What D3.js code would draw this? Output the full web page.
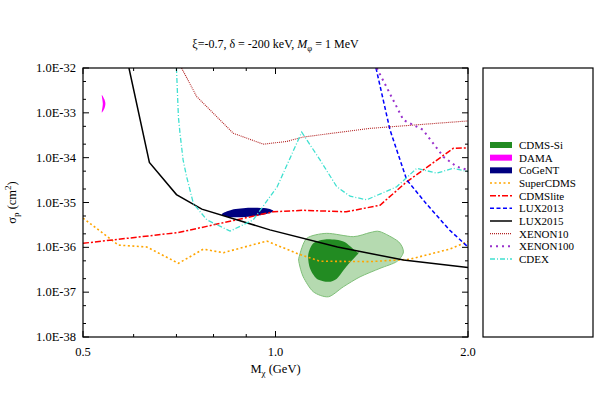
<!DOCTYPE html>
<html>
<head>
<meta charset="utf-8">
<script src="https://cdn.jsdelivr.net/npm/d3@7"></script>
<style>
  body { margin: 0; background: #fff; }
  text { font-family: "Liberation Serif", "Times New Roman", serif; fill: #000; }
</style>
</head>
<body>
<div id="chart"></div>
<script>
// values: [mass GeV, sigma cm^2]
const superCDMS = [[0.5, 4.5e-36], [0.568, 1.12e-36], [0.629, 1.02e-36], [0.705, 4.4e-37], [0.771, 9.1e-37],
  [0.829, 7.6e-37], [0.969, 1.38e-36], [1.086, 7.1e-37], [1.174, 4.9e-37], [1.405, 4.8e-37],
  [1.62, 5.4e-37], [1.87, 9.1e-37], [2.0, 1.35e-36]];
const cdmsLite = [[0.5, 1.23e-36], [0.705, 2.14e-36], [0.992, 6.2e-36], [1.104, 6.7e-36], [1.29, 6.2e-36],
  [1.457, 8.7e-36], [1.604, 2.9e-35], [1.897, 1.62e-34], [2.0, 1.65e-34]];
const lux2013 = [[1.436, 1e-32], [1.51, 4.2e-34], [1.604, 3.2e-35], [1.72, 9.5e-36], [1.87, 2.45e-36], [2.0, 1.02e-36]];
const lux2015 = [[0.59, 1e-32], [0.635, 7.8e-35], [0.70, 1.5e-35], [0.767, 7.1e-36], [0.98, 2.45e-36],
  [1.25, 1.02e-36], [1.585, 5.2e-37], [2.0, 3.55e-37]];
const xenon10 = [[0.713, 1e-32], [0.753, 2.3e-33], [0.859, 3.5e-34], [0.957, 2.0e-34], [1.041, 2.3e-34],
  [1.108, 2.9e-34], [1.405, 4.5e-34], [2.0, 6.6e-34]];
const xenon100 = [[1.44, 1e-32], [1.585, 6.9e-34], [1.70, 4.2e-34], [1.83, 1.05e-34], [1.92, 6.3e-35], [2.0, 5.3e-35]];
const cdex = [[0.70, 1e-32], [0.705, 8.1e-34], [0.709, 3.5e-34], [0.717, 8.9e-35], [0.726, 3.8e-35], [0.744, 9.5e-36],
  [0.781, 4.1e-36], [0.849, 2.3e-36], [0.923, 4.1e-36], [1.006, 2.24e-35], [1.099, 3.7e-34], [1.174, 8.9e-35],
  [1.247, 2.24e-35], [1.308, 1.38e-35], [1.389, 1.15e-35], [1.547, 2.24e-35], [1.663, 5.8e-35],
  [1.787, 4.5e-35], [1.897, 5.8e-35], [2.0, 4.9e-35]];

// closed regions
const cdmsSiOuter = [[1.089, 6.2e-37], [1.119, 1.58e-36], [1.202, 2.05e-36], [1.323, 1.73e-36], [1.405, 2.13e-36],
  [1.457, 2.24e-36], [1.556, 1.35e-36], [1.585, 7.9e-37], [1.547, 4.8e-37], [1.457, 3.4e-37], [1.356, 2.2e-37],
  [1.277, 1.32e-37], [1.21, 7.9e-38], [1.146, 1.02e-37], [1.105, 2.2e-37], [1.089, 4.4e-37]];
const cdmsSiInner = [[1.125, 6.8e-37], [1.146, 1.23e-36], [1.202, 1.51e-36], [1.277, 1.35e-36], [1.34, 7.9e-37],
  [1.348, 7.4e-37], [1.29, 3.7e-37], [1.247, 2.0e-37], [1.21, 1.7e-37], [1.16, 2.0e-37], [1.132, 3.4e-37]];
const dama = [[0.535, 2.5e-33], [0.540, 2.0e-33], [0.542, 1.6e-33], [0.540, 1.25e-33], [0.535, 1.02e-33], [0.537, 1.6e-33]];
const cogent = [[0.824, 5.5e-36], [0.855, 6.9e-36], [0.912, 7.6e-36], [0.967, 7.4e-36], [0.993, 6.4e-36],
  [0.963, 5.5e-36], [0.906, 4.8e-36], [0.849, 4.7e-36]];

const xMajor = [0.5, 1.0, 2.0];
const xMinor = [0.6, 0.7, 0.8, 0.9];
const yMajor = [1e-38, 1e-37, 1e-36, 1e-35, 1e-34, 1e-33, 1e-32];
const yMinor = [2e-38, 5e-38, 2e-37, 5e-37, 2e-36, 5e-36, 2e-35, 5e-35, 2e-34, 5e-34, 2e-33, 5e-33];

const legendNames = ["CDMS-Si", "DAMA", "CoGeNT", "SuperCDMS", "CDMSlite", "LUX2013", "LUX2015", "XENON10", "XENON100", "CDEX"];

const W = 600, H = 420;
const margin = ({top: 68, right: 132, bottom: 83, left: 83});
const width = W - margin.left - margin.right,
      height = H - margin.top - margin.bottom;

const svg = d3.select("#chart")
              .append("svg")
              .attr("width", W)
              .attr("height", H);

const g = svg.append("g")
             .attr("transform", `translate(${margin.left},${margin.top})`);

const xScale = d3.scaleLog().domain([0.5, 2]).range([0, width]);
const yScale = d3.scaleLog().domain([1e-38, 1e-32]).range([height, 0]);

g.append("clipPath").attr("id", "clip")
 .append("rect").attr("width", width).attr("height", height);

const plot = g.append("g").attr("clip-path", "url(#clip)");

const line = d3.line()
               .x(d => xScale(d[0]))
               .y(d => yScale(d[1]));
const blob = d3.line()
               .x(d => xScale(d[0]))
               .y(d => yScale(d[1]))
               .curve(d3.curveCardinalClosed.tension(0.2));

// regions
plot.append("path").attr("d", blob(cdmsSiOuter))
    .attr("fill", "#b5dab0").attr("stroke", "#7fbf78").attr("stroke-width", 1);
plot.append("path").attr("d", blob(cdmsSiInner))
    .attr("fill", "#228b22");
plot.append("path").attr("d", blob(dama))
    .attr("fill", "#ff00ff");
plot.append("path").attr("d", blob(cogent))
    .attr("fill", "#000080");

const series = [
  {name: "SuperCDMS", data: superCDMS, color: "#ffa500", dash: "2,2.5", w: 1.6},
  {name: "CDMSlite", data: cdmsLite, color: "#ff0000", dash: "6,2,2,2", w: 1.5},
  {name: "LUX2013", data: lux2013, color: "#0000ff", dash: "4,2.5", w: 1.5},
  {name: "LUX2015", data: lux2015, color: "#000000", dash: null, w: 1.5},
  {name: "XENON10", data: xenon10, color: "#b22222", dash: "1,1", w: 1.1},
  {name: "XENON100", data: xenon100, color: "#9932cc", dash: "2,4", w: 2},
  {name: "CDEX", data: cdex, color: "#40e0d0", dash: "5,2,1,2", w: 1.3}
];

plot.selectAll("path.curve")
    .data(series)
    .enter()
    .append("path")
    .attr("class", "curve")
    .attr("d", d => line(d.data))
    .attr("fill", "none")
    .attr("stroke", d => d.color)
    .attr("stroke-width", d => d.w)
    .attr("stroke-dasharray", d => d.dash);

// frame and ticks (gnuplot style, inward, mirrored)
g.append("rect")
 .attr("width", width).attr("height", height)
 .attr("fill", "none").attr("stroke", "#000").attr("stroke-width", 1.2);

const ticks = g.append("g").attr("stroke", "#000").attr("stroke-width", 1);
function xTick(v, len) {
    ticks.append("line").attr("x1", xScale(v)).attr("x2", xScale(v)).attr("y1", height).attr("y2", height - len);
    ticks.append("line").attr("x1", xScale(v)).attr("x2", xScale(v)).attr("y1", 0).attr("y2", len);
}
function yTick(v, len) {
    ticks.append("line").attr("y1", yScale(v)).attr("y2", yScale(v)).attr("x1", 0).attr("x2", len);
    ticks.append("line").attr("y1", yScale(v)).attr("y2", yScale(v)).attr("x1", width).attr("x2", width - len);
}
xMajor.forEach(v => xTick(v, 6));
xMinor.forEach(v => xTick(v, 3));
yMajor.forEach(v => yTick(v, 6));
yMinor.forEach(v => yTick(v, 3));

g.selectAll("text.xlab")
 .data(xMajor)
 .enter()
 .append("text")
 .attr("x", d => xScale(d))
 .attr("y", height + 19)
 .attr("text-anchor", "middle")
 .style("font-size", "12.5px")
 .text(d => d.toFixed(1));

g.selectAll("text.ylab")
 .data(yMajor)
 .enter()
 .append("text")
 .attr("x", -7)
 .attr("y", d => yScale(d) + 4)
 .attr("text-anchor", "end")
 .style("font-size", "12.5px")
 .text(d => "1.0E" + Math.round(Math.log10(d)));

// axis titles
const xTitle = g.append("text")
                .attr("x", width / 2)
                .attr("y", height + 36)
                .attr("text-anchor", "middle")
                .style("font-size", "12.5px");
xTitle.append("tspan").text("M");
xTitle.append("tspan").attr("dy", 3).style("font-size", "9px").text("χ");
xTitle.append("tspan").attr("dy", -3).text(" (GeV)");

const yTitle = svg.append("text")
                  .attr("transform", `translate(16,${margin.top + height / 2}) rotate(-90)`)
                  .attr("text-anchor", "middle")
                  .style("font-size", "12.5px");
yTitle.append("tspan").text("σ");
yTitle.append("tspan").attr("dy", 3).style("font-size", "9px").text("p");
yTitle.append("tspan").attr("dy", -3).text(" (cm");
yTitle.append("tspan").attr("dy", -5).style("font-size", "9px").text("2");
yTitle.append("tspan").attr("dy", 5).text(")");

const title = svg.append("text")
                 .attr("x", margin.left + width / 2)
                 .attr("y", 48)
                 .attr("text-anchor", "middle")
                 .style("font-size", "12px");
title.append("tspan").text("ξ=-0.7, δ = -200 keV, ");
title.append("tspan").style("font-style", "italic").text("M");
title.append("tspan").attr("dy", 3).style("font-size", "8.5px").text("φ");
title.append("tspan").attr("dy", -3).text(" = 1 MeV");

// legend
const legend = svg.append("g");
legend.append("rect")
      .attr("x", 483).attr("y", 68)
      .attr("width", 110).attr("height", 269)
      .attr("fill", "none").attr("stroke", "#000").attr("stroke-width", 1.2);

const fills = {"CDMS-Si": "#228b22", "DAMA": "#ff00ff", "CoGeNT": "#000080"};
const legendY = d3.scalePoint().domain(legendNames).range([145, 259]);

legendNames.forEach(name => {
    const y = legendY(name);
    if (fills[name]) {
        legend.append("rect")
              .attr("x", 490).attr("y", y - 3)
              .attr("width", 22).attr("height", 6)
              .attr("fill", fills[name]);
    } else {
        const s = series.find(d => d.name === name);
        legend.append("line")
              .attr("x1", 490).attr("x2", 512)
              .attr("y1", y).attr("y2", y)
              .attr("stroke", s.color)
              .attr("stroke-width", s.w)
              .attr("stroke-dasharray", s.dash);
    }
    legend.append("text")
          .attr("x", 519).attr("y", y + 4)
          .style("font-size", "11px")
          .text(name);
});
</script>
</body>
</html>
